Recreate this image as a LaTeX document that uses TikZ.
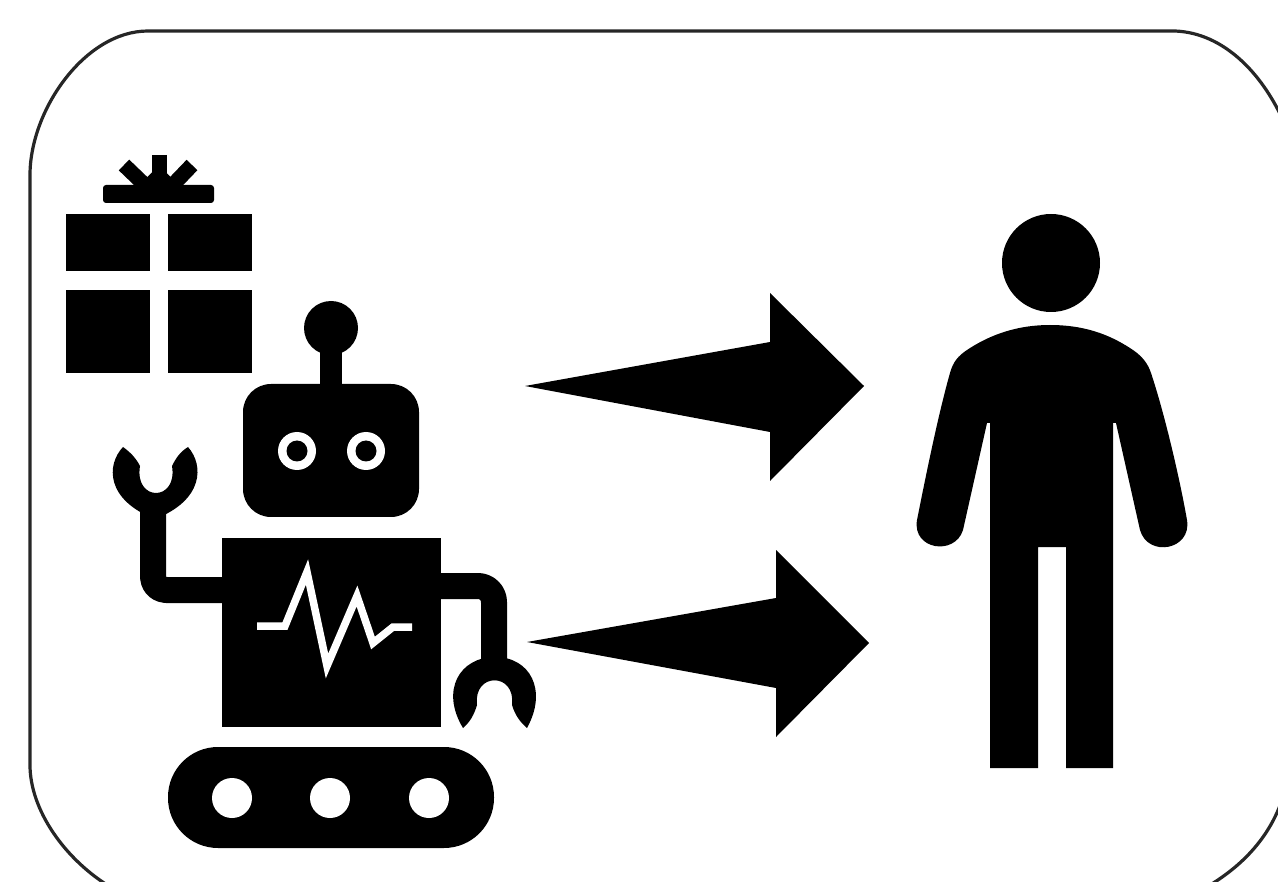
\documentclass[tikz,border=0pt]{standalone}
\begin{document}
\begin{tikzpicture}[x=1pt,y=-1pt,line join=round,
  solid/.style={fill=black,draw=none},
  limb/.style={draw=black,line width=26,line cap=butt},
  bowray/.style={draw=black,line width=15,line cap=butt},
  frameline/.style={line width=3.2,draw=black!85}]
\useasboundingbox (0,0) rectangle (1278,882);
\fill[white] (0,0) rectangle (1278,882);
\begin{scope}
\clip (0,0) rectangle (1278,882);
\draw[frameline] (30,175) .. controls (30,110) and (85,31) .. (148,31) -- (1175,31) .. controls (1225,33) and (1262,75) .. (1282,118) -- (1292,130) -- (1292,770) -- (1282,800) .. controls (1270,835) and (1245,865) .. (1205,888) -- (112,888) .. controls (65,860) and (30,810) .. (30,765) -- cycle;
\end{scope}
% gift
\fill (66,214) rectangle (150,271);
\fill (168,214) rectangle (252,271);
\fill (66,290) rectangle (150,373);
\fill (168,290) rectangle (252,373);
\fill[rounded corners=3] (103,185) rectangle (214,203);
\draw[bowray] (159.5,155) -- (159.5,190);
\draw[bowray] (124,165) -- (150,190);
\draw[bowray] (192,165) -- (168,190);
\fill (135,190) -- (159,165) -- (183,190) -- cycle;
% robot head
\fill (331,328) circle (27);
\fill (320,340) rectangle (342,395);
\fill[rounded corners=28] (243,384) rectangle (419,517);
\fill[white] (297,451) circle (19);
\fill (297,451) circle (10.5);
\fill[white] (366,451) circle (19);
\fill (366,451) circle (10.5);
% body
\fill (222,538) rectangle (441,727);
\draw[white,line width=7.5,line cap=butt,line join=miter] (257,626) -- (285,626) -- (307,572) -- (327,666) -- (357,596) -- (373,643) -- (393,627) -- (412,627);
% left arm
\draw[limb,rounded corners=13] (232,590) -- (153,590) -- (153,500);
\path[solid] (123,447) .. controls (106,465) and (106,500) .. (155,519) .. controls (204,500) and (204,465) .. (188,447) .. controls (180,452) and (176,458) .. (172,466) .. controls (178,502) and (134,502) .. (140,466) .. controls (136,458) and (130,452) .. (123,447) -- cycle;
% right arm
\draw[limb,rounded corners=16] (430,586) -- (494,586) -- (494,680);
\path[solid] (463,728) .. controls (440,690) and (460,657) .. (495,657) .. controls (530,657) and (548,690) .. (527,728) .. controls (520,722) and (515,715) .. (512,705) .. controls (516,672) and (473,672) .. (477,705) .. controls (474,715) and (470,722) .. (463,728) -- cycle;
% tread
\fill[rounded corners=50] (168,747) rectangle (494,848);
\fill[white] (232,798) circle (20);
\fill[white] (330,798) circle (20);
\fill[white] (429,798) circle (20);
% arrows
\fill (525,386) -- (770,342) -- (770,293) -- (864,386) -- (770,481) -- (770,432) -- cycle;
\fill (527,642) -- (776,598) -- (776,550) -- (869,643) -- (776,737) -- (776,688) -- cycle;
% person
\fill (1051,263) circle (49);
\fill (1050,325) .. controls (1090,325) and (1115,338) .. (1133,350) .. controls (1143,357) and (1148,364) .. (1151,373) .. controls (1165,415) and (1180,480) .. (1187,520) .. controls (1192,550) and (1148,558) .. (1140,530) -- (1116,423) -- (1113,423) -- (1113,768) -- (1066,768) -- (1066,547) -- (1038,547) -- (1038,768) -- (990,768) -- (990,423) -- (987,423) -- (963,530) .. controls (955,556) and (912,550) .. (917,520) .. controls (925,480) and (938,415) .. (950,373) .. controls (953,362) and (958,356) .. (967,350) .. controls (985,338) and (1012,325) .. (1050,325) -- cycle;
\end{tikzpicture}
\end{document}
